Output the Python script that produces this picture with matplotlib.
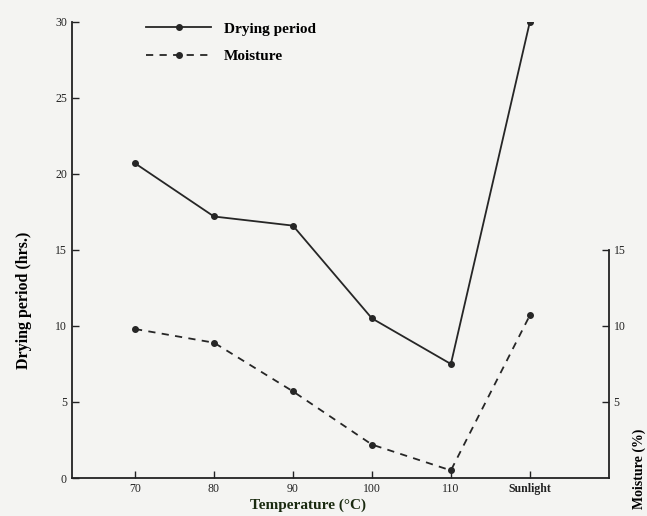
import matplotlib
matplotlib.use("Agg")
import matplotlib.pyplot as plt

categories = ["70", "80", "90", "100", "110", "Sunlight"]
drying_period = [20.7, 17.2, 16.6, 10.5, 7.5, 30.0]
moisture = [9.8, 8.9, 5.7, 2.2, 0.5, 10.7]
left_ticks = [0, 5, 10, 15, 20, 25, 30]
right_ticks = [5, 10, 15]

plt.rcParams['font.family'] = ['Liberation Serif', 'DejaVu Serif']

fig = plt.figure(figsize=(6.47, 5.16), dpi=100, facecolor='#f4f4f2')
ax = fig.add_axes([0.111, 0.0736, 0.83, 0.884])
ax.set_facecolor('none')
x = list(range(len(categories)))

ln1, = ax.plot(x, drying_period, color='#262626', lw=1.3, marker='o', ms=4,
               label='Drying period')
ax2 = ax.twinx()
ln2, = ax2.plot(x, moisture, color='#262626', lw=1.3, ls=(0, (4, 3.5)), marker='o', ms=4,
                label='Moisture')

ax.set_xlim(-0.8, 6.0)
ax.set_ylim(0, 30)
ax2.set_ylim(0, 30)
ax.set_xticks(x)
ax.set_xticklabels(categories)
ax.set_yticks(left_ticks)
ax2.set_yticks(right_ticks)

for a in (ax, ax2):
    a.spines['top'].set_visible(False)
ax.spines['right'].set_visible(False)
ax2.spines['left'].set_visible(False)
ax2.spines['bottom'].set_visible(False)
ax2.spines['right'].set_bounds(0, 15)
for sp in ['left', 'bottom']:
    ax.spines[sp].set_linewidth(1.3)
    ax.spines[sp].set_color('#222222')
ax2.spines['right'].set_linewidth(1.3)
ax2.spines['right'].set_color('#222222')

ax.tick_params(axis='both', direction='in', length=5, width=1, labelsize=8.5, colors='#222222')
ax2.tick_params(axis='y', direction='in', length=5, width=1, labelsize=8.5, colors='#222222')
for lab in ax.get_xticklabels():
    if lab.get_text() == 'Sunlight':
        lab.set_fontweight('bold')

ax.set_ylabel('Drying period (hrs.)', fontsize=11.5, fontweight='bold')
ax.yaxis.set_label_coords(-0.075, 0.39)
ax.set_xlabel('Temperature (°C)', fontsize=11, fontweight='bold', color='#1a2a10')
ax.xaxis.set_label_coords(0.44, -0.045)
ax2.set_ylabel('Moisture (%)', fontsize=10, fontweight='bold')
ax2.yaxis.set_label_coords(1.045, 0.02)

ax.legend(handles=[ln1, ln2], loc='upper left', bbox_to_anchor=(0.112, 1.03),
          frameon=False, handlelength=4.3, labelspacing=0.9,
          prop={'family': ['Liberation Serif'], 'weight': 'bold', 'size': 11})

fig.savefig('out.png', dpi=100, facecolor=fig.get_facecolor())
